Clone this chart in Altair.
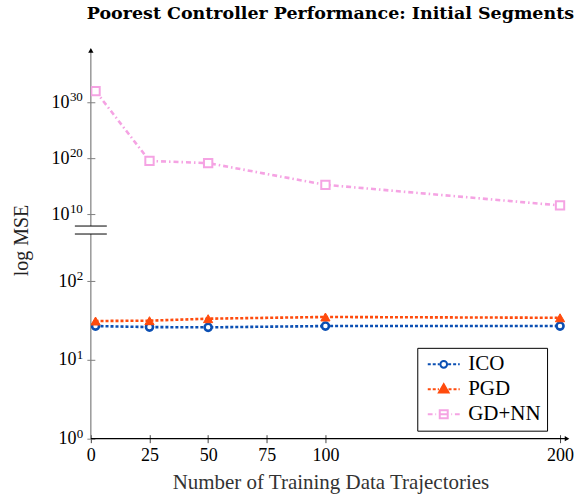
import math
import altair as alt
import pandas as pd

# ---------------- data ----------------
x_vals = [2, 25, 50, 100, 200]
ico_mse = [27.0, 26.2, 26.0, 27.0, 27.0]
pgd_mse = [31.3, 31.6, 33.5, 35.2, 34.4]
gdnn_mse = [1.0e32, 3.2e19, 1.3e19, 1.7e15, 3.5e11]
series_names = ["ICO", "PGD", "GD+NN"]
x_ticks = [0, 25, 50, 75, 100, 200]
y_ticks_low = [1, 10, 100]
y_ticks_high = [1e10, 1e20, 1e30]

FONT = "Liberation Serif"
TFONT = "DejaVu Serif"
COL = {"ICO": "#0b4fb3", "PGD": "#ff4b0d", "GD+NN": "#f5a3e3"}

rows = []
for name, vals in zip(series_names, [ico_mse, pgd_mse, gdnn_mse]):
    for xv, v in zip(x_vals, vals):
        rows.append({"series": name, "n": xv, "mse": v})
df = pd.DataFrame(rows)
one = pd.DataFrame({"k": [0]})


def tick_table(ticks):
    return pd.DataFrame({"mse": ticks,
                         "exp": [str(int(round(math.log10(t)))) for t in ticks]})


W = 480
H_TOP = 179
H_LOW = 205
LBL = 18
EXP = 13

x_scale = alt.Scale(domain=[0, 204.26], nice=False, zero=False)
AX_GRAY = "#7f7f7f"


def series_layers(name, dash, mark_shape, fill, size, sw, lw, ysc, yaxis, xaxis):
    base = alt.Chart(df).transform_filter(alt.datum.series == name)
    enc_x = alt.X("n:Q", scale=x_scale, axis=xaxis)
    enc_y = alt.Y("mse:Q", scale=ysc, axis=yaxis)
    line = base.mark_line(color=COL[name], strokeDash=dash, strokeWidth=lw,
                          clip=True).encode(x=enc_x, y=enc_y)
    pts = base.mark_point(shape=mark_shape, color=COL[name], fill=fill, filled=True,
                          stroke=COL[name], strokeWidth=sw, size=size, opacity=1,
                          clip=True).encode(x=enc_x, y=enc_y)
    return [line, pts]


def exp_layer(ticks, ysc, xpos):
    return alt.Chart(tick_table(ticks)).mark_text(
        font=FONT, fontSize=EXP, align="left", baseline="middle", dy=-5,
        color="black").encode(
        x=alt.value(xpos), y=alt.Y("mse:Q", scale=ysc), text="exp:N")


# ---------------- upper panel ----------------
y_top_scale = alt.Scale(type="log", domain=[10 ** 7.857, 10 ** 39.82], nice=False)
y_top_axis = alt.Axis(values=y_ticks_high, labelExpr="'10'", title=None, grid=False,
                      domain=False, tickSize=8, offset=-4, tickColor=AX_GRAY,
                      labelFont=FONT, labelFontSize=LBL, labelColor="black",
                      labelPadding=18)

top_layers = series_layers("GD+NN", [5, 3, 1.5, 3], "square", "white", 70, 2, 2.6,
                           y_top_scale, y_top_axis, None)
top_axis_line = alt.Chart(one).mark_rule(color=AX_GRAY, strokeWidth=1.2).encode(
    x=alt.value(0), y=alt.value(2), y2=alt.value(H_TOP))
top_arrow = alt.Chart(one).mark_point(shape="triangle-up", filled=True, color="black",
                                      size=28, opacity=1).encode(
    x=alt.value(0), y=alt.value(3))
top_break = alt.Chart(one).mark_rule(color="black", strokeWidth=1).encode(
    x=alt.value(-16), x2=alt.value(16), y=alt.value(H_TOP))

top = alt.layer(top_axis_line, *top_layers, top_arrow, top_break,
                exp_layer(y_ticks_high, y_top_scale, -21)).properties(
    width=W, height=H_TOP)

# ---------------- lower panel ----------------
y_low_scale = alt.Scale(type="log", domain=[1, 10 ** 2.601], nice=False)
y_low_axis = alt.Axis(values=y_ticks_low, labelExpr="'10'", title="log MSE", grid=False,
                      domain=False, tickSize=8, offset=-4, tickColor=AX_GRAY,
                      labelFont=FONT, labelFontSize=LBL, labelColor="black",
                      labelPadding=11, titleFont=FONT, titleFontSize=20,
                      titleFontWeight="normal", titleColor="#222", titleX=-73, titleY=6,
                      titleAngle=-90, titleAlign="center", titleBaseline="middle")
x_axis = alt.Axis(values=x_ticks, title="Number of Training Data Trajectories", grid=False,
                  domain=False, tickSize=8, offset=-4, tickColor="#444",
                  labelFont=FONT, labelFontSize=LBL, labelColor="black", labelPadding=4,
                  labelFlush=False, titleFont=FONT, titleFontSize=21,
                  titleFontWeight="normal", titleColor="#333", titlePadding=7)

ico_layers = series_layers("ICO", [3, 2], "circle", "white", 50, 2.6, 2.6,
                           y_low_scale, y_low_axis, x_axis)
pgd_layers = series_layers("PGD", [3, 2], "triangle-up", COL["PGD"], 85, 1, 2.6,
                           y_low_scale, y_low_axis, x_axis)

low_y_line = alt.Chart(one).mark_rule(color=AX_GRAY, strokeWidth=1.2).encode(
    x=alt.value(0), y=alt.value(0), y2=alt.value(H_LOW))
low_x_line = alt.Chart(one).mark_rule(color="black", strokeWidth=1.2).encode(
    x=alt.value(0), x2=alt.value(W - 2), y=alt.value(H_LOW))
right_arrow = alt.Chart(one).mark_point(shape="triangle-right", filled=True, color="black",
                                        size=28, opacity=1).encode(
    x=alt.value(W - 3), y=alt.value(H_LOW))
low_break = alt.Chart(one).mark_rule(color="black", strokeWidth=1).encode(
    x=alt.value(-16), x2=alt.value(16), y=alt.value(0))


# legend symbols: custom paths (line + marker)
def dashed(x0, x1, on, off):
    segs = []
    x = x0
    while x < x1 - 1e-9:
        e = min(x + on, x1)
        segs.append(f"M{x:.3f},0L{e:.3f},0")
        x = e + off
    return "".join(segs)


u = 8.0  # px per path unit (symbolSize 256)
dot_on, dot_off = 3 / u, 2 / u
ico_path = (dashed(-2, -0.55, dot_on, dot_off) + dashed(0.55, 2, dot_on, dot_off) +
            "M-0.42,0A0.42,0.42 0 1,0 0.42,0A0.42,0.42 0 1,0 -0.42,0Z")
pgd_path = (dashed(-2, -0.6, dot_on, dot_off) + dashed(0.6, 2, dot_on, dot_off) +
            "M0,-0.62L0.6,0.42L-0.6,0.42Z")
gd_path = ("M-2,0L-1.4,0M-1.05,0L-0.95,0M-0.6,0L0.6,0M0.95,0L1.05,0M1.4,0L2,0"
           "M-0.5,-0.5L0.5,-0.5L0.5,0.5L-0.5,0.5Z")

LEG = dict(title=None, orient="none", legendX=327, legendY=301)
legend_layer = alt.Chart(df).transform_filter("false").mark_point(
    opacity=1, strokeWidth=1.8, clip=True).encode(
    x=alt.X("n:Q", scale=x_scale, axis=x_axis),
    y=alt.Y("mse:Q", scale=y_low_scale, axis=y_low_axis),
    shape=alt.Shape("series:N", scale=alt.Scale(domain=series_names,
                                                range=[ico_path, pgd_path, gd_path]),
                    legend=alt.Legend(symbolSize=256, symbolOffset=10, labelOffset=14,
                                      labelFont=FONT, labelFontSize=21, labelColor="black",
                                      strokeColor="black", padding=6, rowPadding=3,
                                      symbolStrokeWidth=2, **LEG)),
    stroke=alt.Stroke("series:N", scale=alt.Scale(domain=series_names,
                                                  range=[COL[s] for s in series_names]),
                      legend=alt.Legend(**LEG)),
    fill=alt.Fill("series:N", scale=alt.Scale(domain=series_names,
                                              range=["white", COL["PGD"], "white"]),
                  legend=alt.Legend(**LEG)),
)

low = alt.layer(low_y_line, low_x_line, *ico_layers, *pgd_layers, right_arrow, low_break,
                exp_layer(y_ticks_low, y_low_scale, -14), legend_layer).properties(
    width=W, height=H_LOW)

chart = alt.vconcat(top, low, spacing=8, bounds="flush").properties(
    title=alt.TitleParams("Poorest Controller Performance: Initial Segments",
                          font=TFONT, fontSize=17.5, fontWeight="bold", anchor="middle",
                          frame="group", color="black", offset=25),
    padding={"left": 12, "top": 4, "right": 5, "bottom": 5},
).configure_view(stroke=None)

chart.save("out.html", embed_options={"renderer": "svg", "actions": False})
